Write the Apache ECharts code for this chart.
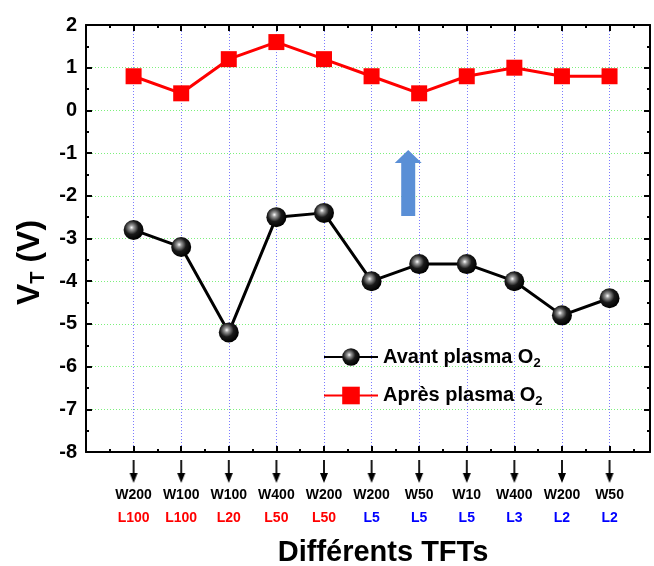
<!DOCTYPE html>
<html>
<head>
<meta charset="utf-8">
<script src="https://cdn.jsdelivr.net/npm/echarts@6/dist/echarts.min.js"></script>
<style>
html, body { margin: 0; padding: 0; background: #fff; }
#main { width: 654px; height: 566px; }
</style>
</head>
<body>
<div id="main"></div>
<script>
// device labels (W = width, L = length, in µm)
var widths = [200, 100, 100, 400, 200, 200, 50, 10, 400, 200, 50];
var lengths = [100, 100, 20, 50, 50, 5, 5, 5, 3, 2, 2];
// threshold voltage before / after O2 plasma
var avant = [-2.8, -3.2, -5.2, -2.5, -2.4, -4.0, -3.6, -3.6, -4.0, -4.8, -4.4];
var apres = [0.8, 0.4, 1.2, 1.6, 1.2, 0.8, 0.4, 0.8, 1.0, 0.8, 0.8];
var yTicks = [-8, -7, -6, -5, -4, -3, -2, -1, 0, 1, 2];
// blue arrow annotation (x in device index, y in V)
var arrowPos = [6.77, -1.7];

var font = 'Liberation Sans, Arial, sans-serif';

// little down arrow drawn on a canvas, used under each tick label
var arr = document.createElement('canvas');
arr.width = 10; arr.height = 24;
var c = arr.getContext('2d');
c.strokeStyle = '#000'; c.lineWidth = 1.8;
c.beginPath(); c.moveTo(5, 0); c.lineTo(5, 15); c.stroke();
c.fillStyle = '#000';
c.beginPath(); c.moveTo(1, 13); c.lineTo(9, 13); c.lineTo(5, 23); c.closePath(); c.fill();

var sphere = {
    type: 'radial', x: 0.4, y: 0.38, r: 0.62,
    colorStops: [
        { offset: 0, color: '#ffffff' },
        { offset: 0.18, color: '#9a9a9a' },
        { offset: 0.55, color: '#1a1a1a' },
        { offset: 1, color: '#000000' }
    ]
};

function pts(arrV) {
    return arrV.map(function (v, i) { return [i + 1, v]; });
}

var dom = document.getElementById('main');
var myChart = echarts.init(dom);

var xMax = 11.85;
var axisLine = { show: true, onZero: false, lineStyle: { color: '#000', width: 2 } };
var majorTick = { inside: true, length: 6, lineStyle: { width: 2, color: '#000' } };
var minorTick = { show: true, splitNumber: 2, length: 3, lineStyle: { width: 2, color: '#000' } };

option = {
    animation: false,
    grid: { left: 86, right: 4, top: 25, bottom: 114, outerBoundsMode: 'none', containLabel: false },
    legend: {
        orient: 'vertical',
        left: 318,
        top: 342,
        itemWidth: 54,
        itemHeight: 22,
        itemGap: 16,
        data: ['avant', 'apres'],
        formatter: function (name) {
            return name === 'avant' ? '{n|Avant plasma O}{s|2}' : '{n|Après plasma O}{s|2}';
        },
        textStyle: {
            rich: {
                n: { fontFamily: font, fontWeight: 'bold', fontSize: 20, color: '#000' },
                s: { fontFamily: font, fontWeight: 'bold', fontSize: 13, color: '#000', padding: [12, 0, 0, 0] }
            }
        }
    },
    xAxis: [
        {
            type: 'value',
            min: 0,
            max: xMax,
            interval: 1,
            position: 'bottom',
            axisLine: axisLine,
            axisTick: majorTick,
            minorTick: minorTick,
            splitLine: { show: true, lineStyle: { color: '#7b7bff', type: [1, 2], width: 1 } },
            axisLabel: {
                margin: 8,
                showMaxLabel: false,
                formatter: function (v) {
                    var r = Math.round(v);
                    if (Math.abs(v - r) > 1e-6 || r < 1 || r > widths.length) return '';
                    var i = r - 1;
                    return '{a|}\n{w|W' + widths[i] + '}\n{' + (lengths[i] >= 20 ? 'lr' : 'lb') + '|L' + lengths[i] + '}';
                },
                rich: {
                    a: { backgroundColor: { image: arr }, width: 10, height: 24, lineHeight: 24 },
                    w: { fontFamily: font, fontWeight: 'bold', fontSize: 14, color: '#000', lineHeight: 22 },
                    lr: { fontFamily: font, fontWeight: 'bold', fontSize: 14, color: '#ff0000', lineHeight: 25 },
                    lb: { fontFamily: font, fontWeight: 'bold', fontSize: 14, color: '#0000ff', lineHeight: 25 }
                }
            },
            name: 'Différents TFTs',
            nameLocation: 'middle',
            nameGap: 86,
            nameTextStyle: { fontFamily: font, fontWeight: 'bold', fontSize: 29, color: '#000', padding: [0, 0, 0, 30] }
        },
        {
            type: 'value',
            min: 0,
            max: xMax,
            interval: 1,
            position: 'top',
            axisLine: axisLine,
            axisTick: majorTick,
            minorTick: minorTick,
            axisLabel: { show: false },
            splitLine: { show: false }
        }
    ],
    yAxis: [
        {
            type: 'value',
            min: -8,
            max: 2,
            interval: 1,
            position: 'left',
            axisLine: axisLine,
            axisTick: majorTick,
            minorTick: minorTick,
            splitLine: { show: true, lineStyle: { color: '#7cf07c', type: [1, 2], width: 1 } },
            axisLabel: {
                margin: 9,
                fontFamily: font, fontWeight: 'bold', fontSize: 20, color: '#000',
                formatter: function (v) { return yTicks.indexOf(v) >= 0 ? String(v) : ''; }
            },
            name: '{v|V}{t|T}{v| (V)}',
            nameLocation: 'middle',
            nameRotate: 90,
            nameGap: 35,
            nameTextStyle: {
                padding: [0, 48, 0, 0],
                rich: {
                    v: { fontFamily: font, fontWeight: 'bold', fontSize: 32, color: '#000' },
                    t: { fontFamily: font, fontWeight: 'bold', fontSize: 20, color: '#000', padding: [16, 0, 0, 0] }
                }
            }
        },
        {
            type: 'value',
            min: -8,
            max: 2,
            interval: 1,
            position: 'right',
            axisLine: axisLine,
            axisTick: majorTick,
            minorTick: minorTick,
            axisLabel: { show: false },
            splitLine: { show: false }
        }
    ],
    series: [
        {
            name: 'avant',
            type: 'line',
            data: pts(avant),
            symbol: 'circle',
            symbolSize: 20,
            itemStyle: { color: sphere, borderWidth: 0 },
            lineStyle: { color: '#000', width: 3 },
            z: 3
        },
        {
            name: 'apres',
            type: 'line',
            data: pts(apres),
            symbol: 'rect',
            symbolSize: 16,
            itemStyle: { color: '#ff0000', borderWidth: 0 },
            lineStyle: { color: '#ff0000', width: 3 },
            markPoint: {
                silent: true,
                symbol: 'path://M13.5,0 L27,13 L20.5,13 L20.5,66 L6.5,66 L6.5,13 L0,13 Z',
                symbolSize: [27, 66],
                symbolKeepAspect: false,
                itemStyle: { color: '#5a8fd6' },
                label: { show: false },
                data: [{ coord: arrowPos }]
            },
            z: 3
        }
    ]
};

if (option && typeof option === "object") {
    myChart.setOption(option, true);
}
</script>
</body>
</html>
